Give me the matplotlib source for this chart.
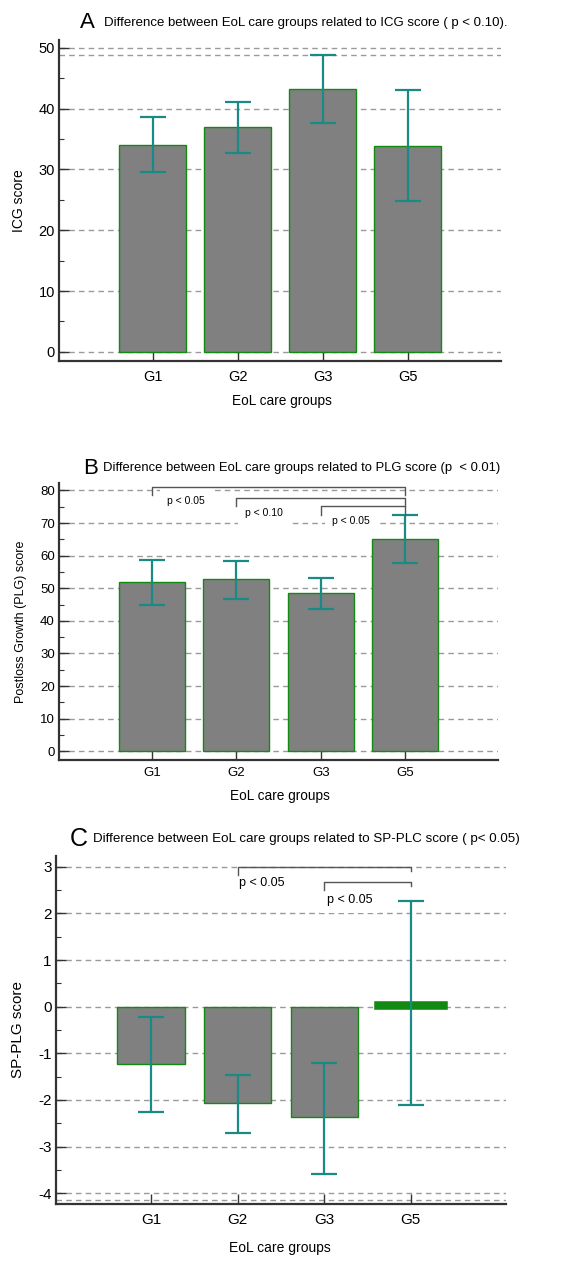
import matplotlib
matplotlib.use("Agg")
import matplotlib.pyplot as plt
from matplotlib.ticker import MultipleLocator
import numpy as np

FAM = ['Liberation Sans', 'DejaVu Sans']
plt.rcParams['font.family'] = FAM
plt.rcParams['axes.unicode_minus'] = False

groups = ['G1', 'G2', 'G3', 'G5']

# Panel A: ICG score
icg_mean = [34.1, 37.0, 43.3, 33.9]
icg_low = [29.6, 32.7, 37.7, 24.8]
icg_high = [38.7, 41.1, 48.9, 43.0]

# Panel B: PLG score
plg_mean = [51.9, 52.9, 48.5, 65.0]
plg_low = [44.9, 46.8, 43.6, 57.6]
plg_high = [58.8, 58.5, 53.2, 72.5]

# Panel C: SP-PLG score
sp_mean = [-1.22, -2.06, -2.37, 0.05]
sp_low = [-2.26, -2.70, -3.58, -2.11]
sp_high = [-0.22, -1.46, -1.20, 2.26]

# significance brackets: (from group index, to group index, level, label)
plg_brackets = [(0, 3, 81.0, 'p < 0.05'), (1, 3, 77.6, 'p < 0.10'), (2, 3, 75.1, 'p < 0.05')]
sp_brackets = [(1, 3, 3.0, 'p < 0.05'), (2, 3, 2.68, 'p < 0.05')]

W, H = 585, 1261
fig = plt.figure(figsize=(W / 100, H / 100), dpi=100)

BAR_FACE = '#808080'
BAR_EDGE = '#128a12'
ERR = '#1a8a86'
GRID = '#9a9a9a'
SPINE = '#333333'


def make_ax(left, right, top, bottom):
    return fig.add_axes([left / W, 1 - bottom / H, (right - left) / W, (bottom - top) / H])


def style(ax, ylim, major, minor, extra_lines, tsize, xpad):
    ax.set_xlim(-1.1, 4.1)
    ax.set_ylim(*ylim)
    for s in ['top', 'right']:
        ax.spines[s].set_visible(False)
    for s in ['left', 'bottom']:
        ax.spines[s].set_color(SPINE)
        ax.spines[s].set_linewidth(1.6)
    ax.yaxis.set_major_locator(MultipleLocator(major))
    ax.yaxis.set_minor_locator(MultipleLocator(minor))
    ax.tick_params(axis='y', which='major', direction='in', length=7, width=1.0,
                   color=SPINE, labelsize=tsize, pad=3)
    ax.tick_params(axis='y', which='minor', direction='in', length=3.5, width=0.8, color=SPINE)
    ax.tick_params(axis='x', which='major', direction='in', length=7, width=1.0,
                   color=SPINE, labelsize=tsize, pad=xpad)
    ax.set_xticks(range(len(groups)))
    ax.set_xticklabels(groups)
    ax.set_axisbelow(True)
    lo, hi = ylim
    t = np.arange(np.ceil(lo / major) * major, hi + 1e-9, major)
    for v in list(t) + extra_lines:
        ax.axhline(v, color=GRID, ls=(0, (4, 3)), lw=1.0, zorder=0.5)


def bars(ax, mean, low, high, lws=1.0):
    x = np.arange(len(groups))
    m = np.array(mean)
    ax.bar(x, m, width=0.78, color=BAR_FACE, edgecolor=BAR_EDGE, linewidth=lws, zorder=2)
    yerr = np.vstack([m - np.array(low), np.array(high) - m])
    ax.errorbar(x, m, yerr=yerr, fmt='none', ecolor=ERR, elinewidth=1.6,
                capsize=9.7, capthick=1.6, zorder=3)


# ---------- Panel A ----------
axA = make_ax(59, 501, 40, 361)
style(axA, (-1.5, 51.3), 10, 5, [48.9], 10.5, 6.5)
bars(axA, icg_mean, icg_low, icg_high)
axA.set_ylabel('ICG score', fontsize=10)
axA.yaxis.set_label_coords((19 - 59) / 442, 0.5)
axA.yaxis.label.set_va('center')
axA.set_xlabel('EoL care groups', fontsize=9.8)
axA.xaxis.set_label_coords((282 - 59) / 442, -(401 - 361) / 321)
axA.xaxis.label.set_va('center')
fig.text(80 / W, 1 - 23 / H, 'A', fontsize=16, va='center', ha='left')
fig.text(104 / W, 1 - 23 / H,
         'Difference between EoL care groups related to ICG score ( p < 0.10).',
         fontsize=9.5, va='center', ha='left')

# ---------- Panel B ----------
axB = make_ax(59, 498, 483, 760)
style(axB, (-2.7, 82.3), 10, 5, [], 9.5, 5)
bars(axB, plg_mean, plg_low, plg_high)
for (a, b, y, lab), dx, off in zip(plg_brackets, [0.4, 0.33, 0.36], [4.1, 4.4, 4.6]):
    axB.plot([a, a, b, b], [y - 2.5, y, y, y - 2.5], color='#555555', lw=1.0, zorder=4)
    axB.text(a + dx, y - off, lab, ha='center', va='center', fontsize=7.5, zorder=3.5,
             bbox=dict(facecolor='white', edgecolor='none', pad=5))
axB.set_ylabel('Postloss Growth (PLG) score', fontsize=9)
axB.yaxis.set_label_coords((21 - 59) / 439, 0.5)
axB.yaxis.label.set_va('center')
axB.set_xlabel('EoL care groups', fontsize=9.8)
axB.xaxis.set_label_coords((280 - 59) / 439, -(796 - 760) / 277)
axB.xaxis.label.set_va('center')
fig.text(83 / W, 1 - 468 / H, 'B', fontsize=16, va='center', ha='left')
fig.text(103 / W, 1 - 468 / H,
         'Difference between EoL care groups related to PLG score (p  < 0.01)',
         fontsize=9.4, va='center', ha='left')

# ---------- Panel C ----------
axC = make_ax(56, 506, 856, 1204)
style(axC, (-4.23, 3.23), 1, 0.5, [-4.14], 11, 6.5)
bars(axC, sp_mean, sp_low, sp_high, lws=[1.0, 1.0, 1.0, 4.0])
for (a, b, y, lab), dx, off in zip(sp_brackets, [0.28, 0.29], [0.34, 0.39]):
    axC.plot([a, a, b, b], [y - 0.18, y, y, y - 0.09], color='#555555', lw=1.0, zorder=4)
    axC.text(a + dx, y - off, lab, ha='center', va='center', fontsize=9, zorder=3.5,
             bbox=dict(facecolor='white', edgecolor='none', pad=5))
axC.set_ylabel('SP-PLG score', fontsize=11)
axC.yaxis.set_label_coords((18 - 56) / 450, 0.5)
axC.yaxis.label.set_va('center')
axC.set_xlabel('EoL care groups', fontsize=10)
axC.xaxis.set_label_coords((280 - 56) / 450, -(1248 - 1204) / 348)
axC.xaxis.label.set_va('center')
fig.text(70 / W, 1 - 839 / H, 'C', fontsize=18, va='center', ha='left')
fig.text(93 / W, 1 - 839 / H,
         'Difference between EoL care groups related to SP-PLC score ( p< 0.05)',
         fontsize=9.6, va='center', ha='left')

fig.savefig('out.png', dpi=100)
